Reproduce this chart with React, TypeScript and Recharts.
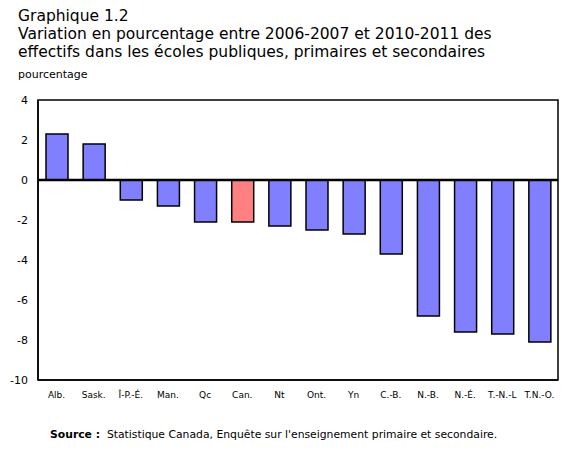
import React from "react";
import {
  BarChart,
  Bar,
  Cell,
  XAxis,
  YAxis,
  ReferenceLine,
  ReferenceArea,
} from "recharts";

// Provinces et territoires, variation en % des effectifs 2006-2007 à 2010-2011
const regions = [
  "Alb.",
  "Sask.",
  "Î-P.-É.",
  "Man.",
  "Qc",
  "Can.",
  "Nt",
  "Ont.",
  "Yn",
  "C.-B.",
  "N.-B.",
  "N.-É.",
  "T.-N.-L",
  "T.N.-O.",
];
const variation = [2.3, 1.8, -1.0, -1.3, -2.1, -2.1, -2.3, -2.5, -2.7, -3.7, -6.8, -7.6, -7.7, -8.1];
const yTicks = [4, 2, 0, -2, -4, -6, -8, -10];

const FONT = "'DejaVu Sans', Verdana, sans-serif";
const BLUE = "#8080FF";
const RED = "#FF8080";

const data = regions.map((name, i) => ({ name, value: variation[i] }));

const App: React.FC = () => {
  return (
    <div
      style={{
        position: "absolute",
        left: 0,
        top: 0,
        width: 569,
        height: 454,
        background: "#fff",
        fontFamily: FONT,
        color: "#000",
      }}
    >
      <div
        style={{
          position: "absolute",
          left: 18,
          top: 7,
          fontSize: 15.5,
          lineHeight: "18px",
          whiteSpace: "nowrap",
        }}
      >
        Graphique 1.2
        <br />
        Variation en pourcentage entre 2006-2007 et 2010-2011 des
        <br />
        effectifs dans les écoles publiques, primaires et secondaires
      </div>
      <div style={{ position: "absolute", left: 18, top: 68, fontSize: 11 }}>
        pourcentage
      </div>

      <div style={{ position: "absolute", left: 0, top: 0 }}>
        <BarChart
          width={569}
          height={454}
          data={data}
          margin={{ top: 100, right: 11, bottom: 54, left: 0 }}
        >
          <XAxis
            dataKey="name"
            interval={0}
            axisLine={{ stroke: "#000", strokeWidth: 1.5 }}
            tickLine={false}
            height={20}
            tick={{ fontSize: 9, fill: "#000", fontFamily: FONT }}
            tickMargin={6}
          />
          <YAxis
            domain={[-10, 4]}
            ticks={yTicks}
            interval={0}
            width={38}
            tickLine={false}
            tickSize={0}
            tickMargin={10}
            axisLine={{ stroke: "#000", strokeWidth: 1.5 }}
            tick={{ fontSize: 11, fill: "#000", fontFamily: FONT }}
          />
          {/* cadre autour de la zone de tracé */}
          <ReferenceArea
            x1="Alb."
            x2="T.N.-O."
            y1={-10}
            y2={4}
            fill="none"
            stroke="#000"
            strokeWidth={1.5}
            ifOverflow="visible"
          />
          <Bar
            dataKey="value"
            barSize={22}
            stroke="#000"
            strokeWidth={1.5}
            isAnimationActive={false}
          >
            {data.map((d) => (
              <Cell key={d.name} fill={d.name === "Can." ? RED : BLUE} />
            ))}
          </Bar>
          <ReferenceLine y={0} stroke="#000" strokeWidth={2.5} />
        </BarChart>
      </div>

      <div
        style={{
          position: "absolute",
          left: 50,
          top: 428,
          fontSize: 10.8,
          whiteSpace: "nowrap",
        }}
      >
        <b>Source :</b>&nbsp; Statistique Canada, Enquête sur l'enseignement
        primaire et secondaire.
      </div>
    </div>
  );
};

export default App;
